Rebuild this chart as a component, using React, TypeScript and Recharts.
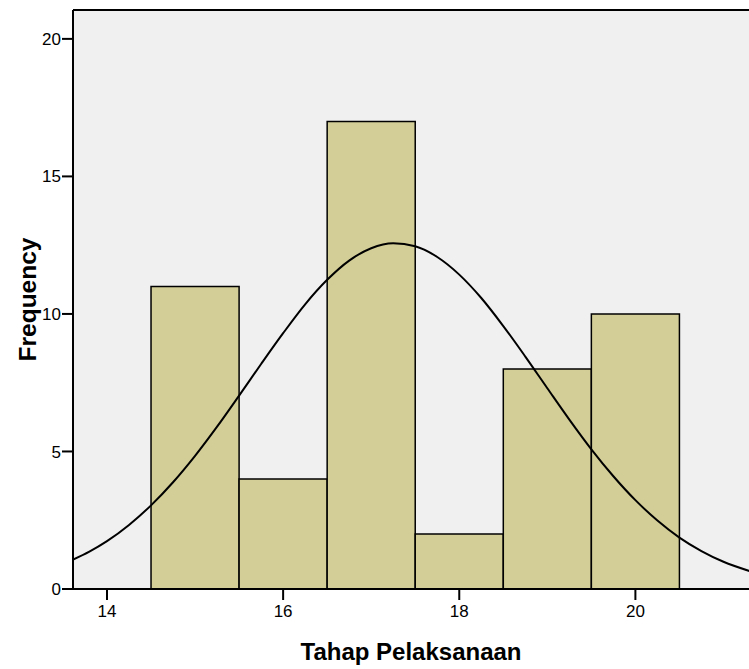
import React from 'react';
import { ComposedChart, Line, XAxis, YAxis, CartesianGrid, ReferenceArea, ReferenceLine } from 'recharts';

// Histogram bins (Tahap Pelaksanaan)
const binStarts = [14.5, 15.5, 16.5, 17.5, 18.5, 19.5];
const binEnds = [15.5, 16.5, 17.5, 18.5, 19.5, 20.5];
const frequencies = [11, 4, 17, 2, 8, 10];

// Normal curve
const curveX = [13.6, 13.8, 14.0, 14.25, 14.5, 14.75, 15.0, 15.25, 15.5, 15.75, 16.0, 16.25, 16.5, 16.75, 17.0, 17.25, 17.5, 17.75, 18.0, 18.25, 18.5, 18.75, 19.0, 19.25, 19.5, 19.75, 20.0, 20.25, 20.5, 20.75, 21.0, 21.3];
const curveY = [1.05, 1.36, 1.74, 2.33, 3.04, 3.88, 4.84, 5.9, 7.03, 8.18, 9.3, 10.35, 11.24, 11.94, 12.39, 12.57, 12.46, 12.07, 11.43, 10.58, 9.56, 8.45, 7.3, 6.16, 5.08, 4.1, 3.23, 2.49, 1.87, 1.38, 0.99, 0.65];

const xTicks = [14, 16, 18, 20];
const yTicks = [0, 5, 10, 15, 20];
const xDomain = [13.614, 21.29];
const yDomain = [0, 21.05];

const curveData = curveX.map((x, i) => ({ x, y: curveY[i] }));

const FONT = '"Liberation Sans", Arial, sans-serif';

const YTitle = (props: any) => {
  const vb = props.viewBox || {};
  const cx = 19;
  const cy = (vb.y ?? 0) + (vb.height ?? 0) / 2;
  return (
    <text
      x={cx}
      y={cy}
      transform={`rotate(-90, ${cx}, ${cy})`}
      textAnchor="middle"
      dominantBaseline="central"
      fontFamily={FONT}
      fontWeight="bold"
      fontSize={24.5}
      fill="#000"
    >
      Frequency
    </text>
  );
};

const XTitle = (props: any) => {
  const vb = props.viewBox || {};
  const cx = (vb.x ?? 0) + (vb.width ?? 0) / 2;
  const cy = 643;
  return (
    <text
      x={cx}
      y={cy}
      textAnchor="middle"
      dominantBaseline="central"
      fontFamily={FONT}
      fontWeight="bold"
      fontSize={24}
      fill="#000"
    >
      Tahap Pelaksanaan
    </text>
  );
};

export default function App() {
  return (
    <div style={{ width: 741, height: 661 }}>
      <style>{'body{margin:8px 0 8px 8px;}'}</style>
      <ComposedChart
        width={741}
        height={661}
        data={curveData}
        margin={{ top: 2, right: 0, bottom: 0, left: 0 }}
      >
        <CartesianGrid fill="#f0f0f0" horizontal={false} vertical={false} />
        <XAxis
          type="number"
          dataKey="x"
          domain={xDomain}
          allowDataOverflow
          ticks={xTicks}
          height={80}
          tickSize={11}
          tickMargin={5}
          axisLine={{ stroke: '#000', strokeWidth: 2 }}
          tickLine={{ stroke: '#000', strokeWidth: 2 }}
          tick={{ fill: '#000', fontSize: 17, fontFamily: FONT }}
          label={<XTitle />}
        />
        <YAxis
          type="number"
          domain={yDomain}
          allowDataOverflow
          ticks={yTicks}
          width={65}
          tickSize={11}
          tickMargin={1}
          axisLine={{ stroke: '#000', strokeWidth: 2 }}
          tickLine={{ stroke: '#000', strokeWidth: 2 }}
          tick={{ fill: '#000', fontSize: 17, fontFamily: FONT }}
          label={<YTitle />}
        />
        <ReferenceLine y={yDomain[1]} stroke="#000" strokeWidth={2} />
        {frequencies.map((f, i) => (
          <ReferenceArea
            key={i}
            x1={binStarts[i]}
            x2={binEnds[i]}
            y1={0}
            y2={f}
            fill="#d3ce98"
            fillOpacity={1}
            stroke="#000"
            strokeWidth={1.5}
          />
        ))}
        <Line
          type="monotone"
          dataKey="y"
          stroke="#000"
          strokeWidth={2}
          dot={false}
          activeDot={false}
          isAnimationActive={false}
        />
      </ComposedChart>
    </div>
  );
}
